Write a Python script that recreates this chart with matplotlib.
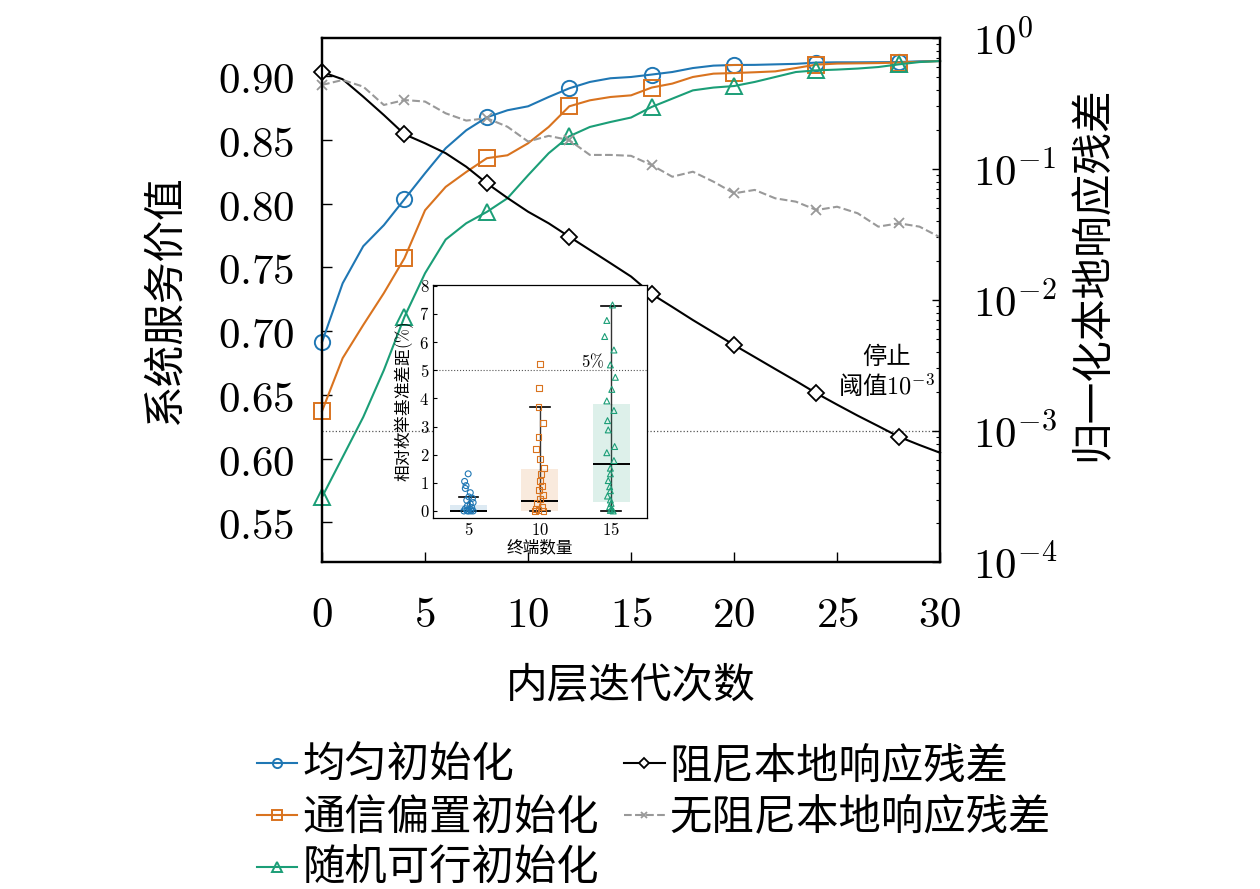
import numpy as np
import matplotlib
matplotlib.use("Agg")
import matplotlib.pyplot as plt
from matplotlib.ticker import FuncFormatter, FixedLocator, LogLocator, NullFormatter

plt.rcParams['font.family'] = ['Noto Sans CJK SC', 'DejaVu Sans']
plt.rcParams['mathtext.fontset'] = 'cm'
plt.rcParams['axes.unicode_minus'] = True

# ---- 主图数据 ----
iters = np.arange(0, 31)

val_uniform = [0.6915, 0.7376, 0.7667, 0.7832, 0.8035, 0.8239, 0.8435, 0.8576, 0.8678, 0.8733,
               0.8764, 0.8837, 0.8905, 0.8955, 0.8984, 0.8994, 0.9013, 0.9033, 0.9064, 0.9083,
               0.9088, 0.9089, 0.9093, 0.9097, 0.9107, 0.9109, 0.9109, 0.9110, 0.9111, 0.9117,
               0.9119]
val_comm = [0.6374, 0.6789, 0.7049, 0.7299, 0.7573, 0.7949, 0.8132, 0.8249, 0.8357, 0.8380,
            0.8474, 0.8602, 0.8764, 0.8811, 0.8837, 0.8850, 0.8911, 0.8942, 0.8994, 0.9020,
            0.9025, 0.9031, 0.9038, 0.9064, 0.9091, 0.9099, 0.9101, 0.9103, 0.9107, 0.9113,
            0.9119]
val_random = [0.5700, 0.6013, 0.6327, 0.6695, 0.7113, 0.7455, 0.7719, 0.7847, 0.7936, 0.8043,
              0.8223, 0.8396, 0.8529, 0.8602, 0.8641, 0.8676, 0.8759, 0.8824, 0.8889, 0.8911,
              0.8923, 0.8955, 0.8994, 0.9033, 0.9046, 0.9052, 0.9060, 0.9072, 0.9093, 0.9111,
              0.9119]

res_damped = [0.550, 0.484, 0.356, 0.258, 0.184, 0.157, 0.132, 0.104, 0.0778, 0.0601,
              0.0472, 0.0385, 0.0304, 0.0241, 0.0191, 0.0151, 0.0111, 0.00885, 0.00703, 0.00565,
              0.00453, 0.00367, 0.00297, 0.00241, 0.00194, 0.00159, 0.00131, 0.00109, 0.000904,
              0.000782, 0.000682]
res_undamped = [0.438, 0.478, 0.425, 0.308, 0.336, 0.327, 0.266, 0.234, 0.244, 0.210,
                0.162, 0.179, 0.166, 0.128, 0.128, 0.126, 0.107, 0.0873, 0.0953, 0.0800,
                0.0652, 0.0692, 0.0597, 0.0563, 0.0486, 0.0515, 0.0459, 0.0363, 0.0385, 0.0363,
                0.0301]
stop_threshold = 1e-3

# ---- 插图数据 ----
n_terminals = [5, 10, 15]
gap_5 = [1.32, 1.05, 0.90, 0.80, 0.65, 0.50, 0.45, 0.38, 0.30, 0.25, 0.18, 0.12, 0.08, 0.04,
         0.02, 0.0, 0.0, 0.0, 0.0, 0.0]
jit_5 = [-0.01, -0.06, -0.04, -0.05, 0.02, 0.0, 0.05, -0.03, 0.06, 0.02, -0.02, 0.04, -0.05,
         0.03, -0.03, 0.06, -0.07, 0.0, 0.03, -0.02]
gap_10 = [5.21, 4.36, 3.71, 3.12, 2.64, 2.20, 1.85, 1.54, 1.32, 1.08, 0.89, 0.75, 0.57, 0.43,
          0.27, 0.15, 0.06, 0.02, 0.0, 0.0]
jit_10 = [0.0, -0.01, -0.02, 0.04, -0.02, -0.06, 0.0, 0.06, 0.01, 0.0, 0.03, -0.01, 0.04, 0.0,
          -0.04, 0.03, -0.06, -0.02, 0.05, -0.07]
gap_15 = [7.32, 6.77, 6.20, 5.72, 5.19, 4.75, 4.32, 3.91, 3.57, 3.21, 2.88, 2.29, 2.07, 1.79,
          1.52, 1.32, 1.08, 0.86, 0.72, 0.53, 0.39, 0.27, 0.15, 0.06, 0.02, 0.0]
jit_15 = [0.02, -0.06, -0.09, 0.04, -0.01, 0.06, 0.01, -0.06, 0.04, -0.05, -0.04, 0.05, -0.06,
          0.04, -0.01, -0.01, -0.04, -0.02, -0.01, -0.05, -0.01, 0.0, -0.02, 0.01, -0.01, 0.03]
box_q1 = [0.0, 0.0, 0.33]
box_med = [0.0, 0.35, 1.68]
box_q3 = [0.2, 1.48, 3.8]
whis_lo = [0.0, 0.0, 0.0]
whis_hi = [0.48, 3.7, 7.3]
gap_limit = 5

c_blue = '#1f77b4'
c_orange = '#d9731f'
c_green = '#1b9e77'
c_gray = '#999999'

fig = plt.figure(figsize=(12.6, 8.89), dpi=100)
ax = fig.add_axes([0.2556, 0.3678, 0.4905, 0.5895])
ax2 = ax.twinx()

lw = 1.5
ms = 11
h1, = ax.plot(iters, val_uniform, '-', color=c_blue, lw=lw, marker='o', ms=ms, mfc='none',
              mew=1.4, markevery=4, clip_on=False, label='均匀初始化')
h2, = ax.plot(iters, val_comm, '-', color=c_orange, lw=lw, marker='s', ms=ms, mfc='none',
              mew=1.4, markevery=4, clip_on=False, label='通信偏置初始化')
h3, = ax.plot(iters, val_random, '-', color=c_green, lw=lw, marker='^', ms=ms + 1, mfc='none',
              mew=1.4, markevery=4, clip_on=False, label='随机可行初始化')

h4, = ax2.plot(iters, res_damped, '-', color='black', lw=lw, marker='D', ms=8, mfc='white',
               mew=1.3, markevery=4, clip_on=False, label='阻尼本地响应残差')
h5, = ax2.plot(iters, res_undamped, '--', color=c_gray, lw=lw, marker='x', ms=7,
               mew=1.3, markevery=4, clip_on=False, label='无阻尼本地响应残差')
ax2.axhline(stop_threshold, color='#555555', lw=0.9, ls=':', zorder=0)
ax2.text(27.4, 2.8e-3, '停止\n阈值$10^{-3}$', ha='center', va='center', fontsize=17.5)

ax.set_xlim(0, 30)
ax.set_ylim(0.519, 0.930)
ax2.set_yscale('log')
ax2.set_ylim(1e-4, 1)

ax.set_xticks([0, 5, 10, 15, 20, 25, 30])
ax.set_yticks([0.55, 0.60, 0.65, 0.70, 0.75, 0.80, 0.85, 0.90])
ax.xaxis.set_major_formatter(FuncFormatter(lambda v, p: f'${int(v)}$'))
ax.yaxis.set_major_formatter(FuncFormatter(lambda v, p: f'${v:.2f}$'))
ax2.yaxis.set_major_locator(FixedLocator([1e-4, 1e-3, 1e-2, 1e-1, 1]))
ax2.yaxis.set_minor_locator(LogLocator(base=10, subs=np.arange(2, 10)))
ax2.yaxis.set_minor_formatter(NullFormatter())
ax2.yaxis.set_major_formatter(FuncFormatter(lambda v, p: f'$10^{{{int(round(np.log10(v)))}}}$'))

ax.tick_params(axis='x', direction='in', length=7, width=1, labelsize=31, pad=22, top=False)
ax.tick_params(axis='y', direction='in', length=7, width=1, labelsize=31, pad=20, right=False)
ax2.tick_params(axis='y', which='major', direction='in', length=6, width=1, labelsize=31, pad=24)
ax2.tick_params(axis='y', which='minor', direction='in', length=3, width=0.8)
for a in (ax, ax2):
    for s in a.spines.values():
        s.set_linewidth(1.6)

ax.set_xlabel('内层迭代次数', fontsize=30, va='center')
ax.xaxis.set_label_coords(0.5, -0.2385)
ax.set_ylabel('系统服务价值', fontsize=30, va='center')
ax.yaxis.set_label_coords(-0.254, 0.5)
ax2.set_ylabel('归一化本地响应残差', fontsize=30, va='center', rotation=90)
ax2.yaxis.set_label_coords(1.2476, 0.55)

# ---- 插图 ----
ins = fig.add_axes([0.3439, 0.4170, 0.1693, 0.2624])
ins.set_zorder(5)
ins.set_facecolor('white')
pos = [1, 2, 3]
stats = []
for i in range(3):
    stats.append({'med': box_med[i], 'q1': box_q1[i], 'q3': box_q3[i],
                  'whislo': whis_lo[i], 'whishi': whis_hi[i], 'fliers': []})
bp = ins.bxp(stats, positions=pos, widths=0.52, patch_artist=True, showfliers=False,
             boxprops=dict(linewidth=0),
             medianprops=dict(color='black', lw=1.4),
             whiskerprops=dict(color='#333333', lw=1.0),
             capprops=dict(color='black', lw=1.2), capwidths=0.27)
box_cols = [c_blue, c_orange, c_green]
for patch, c in zip(bp['boxes'], box_cols):
    patch.set_facecolor(c)
    patch.set_alpha(0.15)
# 竖线穿过箱体
ins.vlines(pos, box_q1, box_q3, color='#333333', lw=1.0, zorder=1)

markers = ['o', 's', '^']
groups = [(gap_5, jit_5), (gap_10, jit_10), (gap_15, jit_15)]
for i, (vals, jit) in enumerate(groups):
    xs = pos[i] + np.array(jit)
    ins.scatter(xs, vals, marker=markers[i], s=18, facecolors='none',
                edgecolors=box_cols[i], linewidths=0.8, zorder=3, clip_on=False)

ins.axhline(gap_limit, color='#555555', lw=0.8, ls=':', zorder=0)
ins.text(2.74, 5.31, '$5\\%$', ha='center', va='center', fontsize=12)
ins.set_xlim(0.5, 3.5)
ins.set_ylim(-0.26, 8.03)
ins.set_xticks(pos)
ins.set_xticklabels([f'${n}$' for n in n_terminals])
ins.set_yticks(range(0, 9))
ins.yaxis.set_major_formatter(FuncFormatter(lambda v, p: f'${int(v)}$'))
ins.tick_params(axis='both', direction='in', length=3, width=0.8, labelsize=12, pad=3)
ins.tick_params(axis='x', length=0)
for s in ins.spines.values():
    s.set_linewidth(0.9)
ins.set_xlabel('终端数量', fontsize=12, labelpad=0)
ins.set_ylabel('相对枚举基准差距$(\\%)$', fontsize=12, labelpad=2)

fig.legend([h1, h2, h3, h4, h5], [h.get_label() for h in (h1, h2, h3, h4, h5)],
           loc='upper center', bbox_to_anchor=(0.519, 0.163), ncol=2, frameon=False,
           fontsize=30.5, handlelength=0.95, handletextpad=0.12, columnspacing=0.6,
           labelspacing=0.18, markerscale=0.6, borderpad=0, borderaxespad=0)

fig.savefig('out.png', dpi=100)
